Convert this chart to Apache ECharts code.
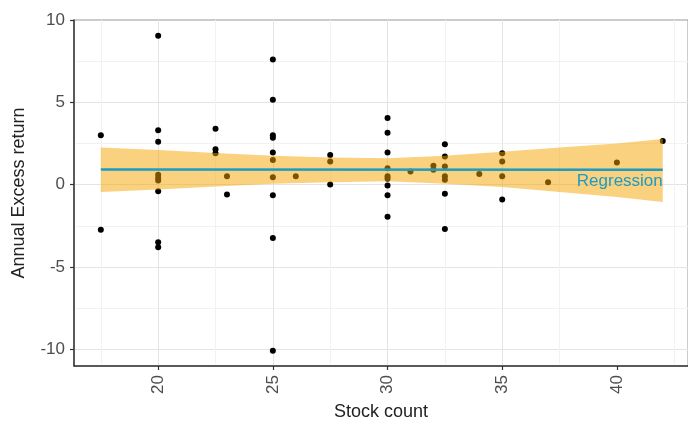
<!DOCTYPE html>
<html>
<head>
<meta charset="utf-8">
<script src="https://cdn.jsdelivr.net/npm/echarts@6/dist/echarts.min.js"></script>
<style>
  html, body { margin: 0; padding: 0; background: #fff; }
  #chart { width: 688px; height: 426px; }
</style>
</head>
<body>
<div id="chart"></div>
<script>
// scatter points (stock count vs annual excess return)
const stockCount = [
  17.5, 17.5,
  20, 20, 20, 20, 20, 20, 20, 20, 20,
  22.5, 22.5, 22.5,
  23, 23,
  25, 25, 25, 25, 25, 25, 25, 25, 25, 25,
  26,
  27.5, 27.5, 27.5,
  30, 30, 30, 30, 30, 30, 30, 30, 30,
  31,
  32, 32,
  32.5, 32.5, 32.5, 32.5, 32.5, 32.5, 32.5,
  34,
  35, 35, 35, 35,
  37,
  40,
  42
]
const excessReturn = [
  3.0, -2.75,
  9.05, 3.3, 2.6, 0.6, 0.4, 0.25, -0.4, -3.5, -3.8,
  3.4, 2.15, 1.9,
  0.5, -0.6,
  7.6, 5.15, 3.0, 2.85, 1.95, 1.5, 0.45, -0.65, -3.25, -10.1,
  0.5,
  1.8, 1.4, 0.0,
  4.05, 3.15, 1.95, 1.0, 0.5, 0.35, -0.05, -0.65, -1.95,
  0.8,
  1.15, 0.9,
  2.45, 1.7, 1.1, 0.5, 0.3, -0.55, -2.7,
  0.65,
  1.9, 1.4, 0.5, -0.9,
  0.15,
  1.35,
  2.65
]

// regression fit and confidence band
const fitX = [17.5, 42]
const fitY = [0.92, 0.9]
const bandX = [17.5, 20, 22.5, 25, 27.5, 30, 32.5, 35, 37.5, 40, 42]
const bandUpper = [2.25, 2.1, 1.92, 1.76, 1.65, 1.6, 1.75, 2.0, 2.25, 2.5, 2.77]
const bandLower = [-0.45, -0.3, -0.12, 0.05, 0.15, 0.2, 0.05, -0.15, -0.45, -0.75, -1.05]

const xTicks = [20, 25, 30, 35, 40]
const yTicks = [-10, -5, 0, 5, 10]

const FONT = "'Liberation Sans', Arial, sans-serif"
const LINE_COLOR = "#1d9bc3"

const chart = echarts.init(document.getElementById("chart"))

const points = stockCount.map((x, i) => [x, excessReturn[i]])
const fitData = fitX.map((x, i) => [x, fitY[i]])
fitData[fitData.length - 1] = {
  value: fitData[fitData.length - 1],
  label: {
    show: true,
    formatter: "Regression",
    position: "bottom",
    align: "right",
    distance: 3,
    color: LINE_COLOR,
    fontSize: 17,
    fontFamily: FONT,
  },
}

function renderBand(params, api) {
  const upper = bandX.map((x, i) => api.coord([x, bandUpper[i]]))
  const lower = bandX.map((x, i) => api.coord([x, bandLower[i]])).reverse()
  return {
    type: "polygon",
    shape: { points: upper.concat(lower) },
    style: { fill: "rgba(245, 165, 0, 0.5)" },
  }
}

function axisCommon(ticks) {
  return {
    axisLine: { show: true, onZero: false, lineStyle: { color: "#333", width: 1.5 } },
    axisTick: { show: true, length: 4, customValues: ticks, lineStyle: { color: "#333", width: 1.2 } },
    axisLabel: {
      customValues: ticks,
      color: "#4d4d4d",
      fontSize: 17,
      fontFamily: FONT,
      margin: 9,
    },
    splitLine: { show: true, showMaxLine: false, lineStyle: { color: "#e4e4e4", width: 1 } },
    minorTick: { show: false, splitNumber: 2 },
    minorSplitLine: { show: true, lineStyle: { color: "#f2f2f2", width: 1 } },
    nameLocation: "middle",
    nameTextStyle: { color: "#222", fontSize: 18, fontFamily: FONT },
    minInterval: 5,
    maxInterval: 5,
  }
}

chart.setOption({
  animation: false,
  backgroundColor: "#fff",
  grid: {
    left: 74,
    top: 20,
    right: -2,
    bottom: 55,
    show: true,
    borderColor: "#999",
    borderWidth: 1,
  },
  xAxis: {
    type: "value",
    min: 16.33,
    max: 43.1,
    name: "Stock count",
    nameGap: 37,
    ...axisCommon(xTicks),
    axisLabel: { ...axisCommon(xTicks).axisLabel, rotate: 90 },
  },
  yAxis: {
    type: "value",
    min: -11.02,
    max: 10,
    name: "Annual Excess return",
    nameGap: 46,
    ...axisCommon(yTicks),
  },
  series: [
    {
      type: "scatter",
      data: points,
      symbolSize: 6,
      itemStyle: { color: "#000", opacity: 1 },
      z: 2,
    },
    {
      type: "custom",
      renderItem: renderBand,
      data: [[bandX[0], bandUpper[0]]],
      silent: true,
      z: 3,
    },
    {
      type: "line",
      data: fitData,
      symbol: "circle",
      symbolSize: 0,
      showSymbol: true,
      lineStyle: { color: LINE_COLOR, width: 2.5 },
      itemStyle: { color: LINE_COLOR },
      z: 4,
    },
  ],
})
</script>
</body>
</html>
